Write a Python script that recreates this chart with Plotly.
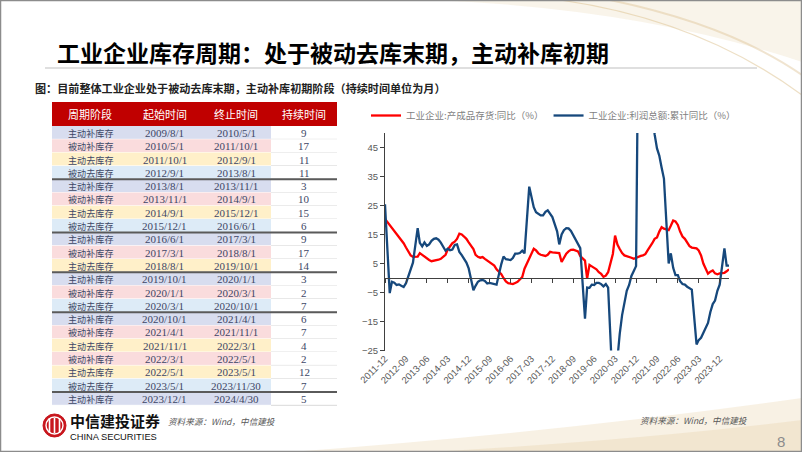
import plotly.graph_objects as go

W, H = 802, 452

# ---------------- text ----------------
TITLE = "工业企业库存周期：处于被动去库末期，主动补库初期"
SUBTITLE = "图：目前整体工业企业处于被动去库末期，主动补库初期阶段（持续时间单位为月）"
SOURCE = "资料来源：Wind，中信建投"
BRAND_CN = "中信建投证券"
BRAND_EN = "CHINA SECURITIES"
PAGE_NO = "8"

# ---------------- table data ----------------
TABLE_HEADER = ["周期阶段", "起始时间", "终止时间", "持续时间"]
PHASES = ["主动补库存", "被动补库存", "主动去库存", "被动去库存",
          "主动补库存", "被动补库存", "主动去库存", "被动去库存",
          "主动补库存", "被动补库存", "主动去库存",
          "主动补库存", "被动补库存", "被动去库存",
          "主动补库存", "被动补库存", "主动去库存", "被动补库存", "主动去库存", "被动去库存",
          "主动补库存"]
STARTS = ["2009/8/1", "2010/5/1", "2011/10/1", "2012/9/1",
          "2013/8/1", "2013/11/1", "2014/9/1", "2015/12/1",
          "2016/6/1", "2017/3/1", "2018/8/1",
          "2019/10/1", "2020/1/1", "2020/3/1",
          "2020/10/1", "2021/4/1", "2021/11/1", "2022/3/1", "2022/5/1", "2023/5/1",
          "2023/12/1"]
ENDS = ["2010/5/1", "2011/10/1", "2012/9/1", "2013/8/1",
        "2013/11/1", "2014/9/1", "2015/12/1", "2016/6/1",
        "2017/3/1", "2018/8/1", "2019/10/1",
        "2020/1/1", "2020/3/1", "2020/10/1",
        "2021/4/1", "2021/11/1", "2022/3/1", "2022/5/1", "2023/5/1", "2023/11/30",
        "2024/4/30"]
DURATIONS = [9, 17, 11, 11, 3, 10, 15, 6, 9, 17, 14, 3, 2, 7, 6, 7, 4, 2, 12, 7, 5]

# ---------------- chart data (monthly, Jan not published) ----------------
YEARS = [2011, 2012, 2013, 2014, 2015, 2016, 2017, 2018, 2019, 2020, 2021, 2022, 2023, 2024]
FIRST_MONTH = [12, 2, 2, 2, 2, 2, 2, 2, 2, 2, 2, 2, 2, 2]

INV_NAME = "工业企业:产成品存货:同比（%）"
INV_YOY = [
    [20.4],
    [18.3, 17.2, 16.0, 15.0, 14.0, 13.0, 12.0, 10.5, 9.0, 7.8, 7.3],
    [7.4, 8.6, 8.0, 7.2, 6.8, 6.2, 5.8, 5.9, 6.1, 6.3, 6.6],
    [8.0, 9.8, 11.0, 12.0, 12.5, 13.5, 15.3, 15.0, 14.3, 13.5, 12.3],
    [10.0, 8.0, 7.3, 7.0, 7.2, 6.6, 6.0, 5.2, 4.6, 4.3, 3.0],
    [1.3, 0.0, -1.2, -1.8, -2.0, -2.1, -1.7, -1.3, -0.5, 0.3, 3.2],
    [6.8, 8.5, 10.1, 9.5, 8.5, 8.0, 7.8, 7.6, 8.0, 9.0, 8.8],
    [8.5, 8.6, 5.5, 7.2, 8.4, 9.2, 9.7, 9.8, 9.5, 9.2, 7.6],
    [6.0, -0.2, 4.5, 4.0, 3.6, 3.0, 2.0, 1.4, 0.4, 0.8, 2.0],
    [8.3, 14.6, 11.5, 10.0, 8.6, 7.8, 7.6, 7.2, 7.0, 6.6, 7.0],
    [7.6, 7.8, 8.2, 9.5, 10.6, 12.0, 13.5, 14.0, 16.0, 17.5, 17.0],
    [16.5, 18.0, 19.8, 19.5, 18.3, 16.0, 14.3, 13.5, 12.0, 11.0, 10.5],
    [10.2, 9.5, 7.8, 5.0, 3.0, 1.5, 2.2, 2.6, 1.6, 1.3, 1.6],
    [1.8, 2.3, 3.0],
]

PROFIT_NAME = "工业企业:利润总额:累计同比（%）"
PROFIT_YOY = [
    [25.4],
    [-5.2, -1.3, -1.6, -2.4, -2.2, -2.7, -3.1, -1.8, 0.5, 3.0, 5.3],
    [17.2, 12.1, 10.9, 12.3, 11.1, 11.6, 12.8, 13.5, 13.7, 13.2, 12.2],
    [9.4, 10.1, 9.6, 9.8, 11.4, 11.6, 9.0, 7.9, 6.7, 5.3, 3.3],
    [-4.2, -2.7, -1.3, -0.8, -0.7, -1.0, -1.9, -1.7, -1.9, -1.9, -2.3],
    [4.8, 7.4, 6.5, 6.4, 6.2, 6.9, 8.4, 8.4, 8.6, 9.4, 8.5],
    [31.5, 28.3, 24.4, 22.7, 22.0, 21.6, 21.6, 22.8, 23.3, 21.9, 21.0],
    [16.1, 11.6, 15.0, 16.5, 17.2, 17.1, 16.2, 14.7, 13.6, 11.8, 10.3],
    [-14.0, -3.3, -3.4, -2.3, -2.4, -1.7, -1.7, -2.1, -2.9, -2.1, -3.3],
    [-38.3, -36.7, -27.4, -19.3, -12.8, -8.1, -4.4, -2.4, 0.7, 2.4, 4.1],
    [178.9, 137.3, 106.0, 83.4, 66.9, 57.3, 49.5, 44.7, 42.2, 38.0, 34.3],
    [5.0, 8.5, 3.5, 1.0, 1.0, -1.1, -2.1, -2.3, -3.0, -3.6, -4.0],
    [-22.9, -21.4, -20.6, -18.8, -16.8, -15.5, -11.7, -9.0, -7.8, -4.4, -2.3],
    [10.2, 4.3, 4.3],
]

X_TICK_LABELS = ["2011-12", "2012-09", "2013-06", "2014-03", "2014-12", "2015-09",
                 "2016-06", "2017-03", "2017-12", "2018-09", "2019-06", "2020-03",
                 "2020-12", "2021-09", "2022-06", "2023-03", "2023-12"]
X_RANGE = ["2011-12-01", "2024-04-01"]
Y_TICKS = [-25, -15, -5, 5, 15, 25, 35, 45]
Y_RANGE = [-25, 50]

# ---------------- build series ----------------
DATES, INV, PROFIT = [], [], []
for yr, m0, inv_vals, pr_vals in zip(YEARS, FIRST_MONTH, INV_YOY, PROFIT_YOY):
    for k, (a, b) in enumerate(zip(inv_vals, pr_vals)):
        DATES.append(f"{yr}-{m0 + k:02d}-01")
        INV.append(a)
        PROFIT.append(b)
TICK_VALS = [t + "-01" for t in X_TICK_LABELS]


def px(x):
    return x / W


def py(y):
    return 1 - y / H


CJK = "Noto Sans CJK SC"
SERIF = "Liberation Serif"

PHASE_FILL = {"主动补库存": "#D8DDEF", "被动补库存": "#FADCDD",
              "主动去库存": "#FFF0C9", "被动去库存": "#DDEBF7"}

fig = go.Figure()

# ---------------- lines ----------------
fig.add_trace(go.Scatter(x=DATES, y=INV, mode="lines", name=INV_NAME,
                         line=dict(color="#FF0000", width=2.3), hoverinfo="skip"))
fig.add_trace(go.Scatter(x=DATES, y=PROFIT, mode="lines", name=PROFIT_NAME,
                         line=dict(color="#16487C", width=2.3), hoverinfo="skip"))
fig.add_trace(go.Scatter(x=[], y=[], xaxis="x2", yaxis="y", showlegend=False))

PLOT_L, PLOT_R, PLOT_T, PLOT_B = 385, 729, 133, 350.5
y_dom = [py(PLOT_B), py(PLOT_T)]
zero_pos = y_dom[0] + (0 - Y_RANGE[0]) / (Y_RANGE[1] - Y_RANGE[0]) * (y_dom[1] - y_dom[0])

AX_COLOR = "#404040"
TICK_FONT = dict(family="Liberation Sans", size=9.5, color="#595959")

shapes = []
annotations = []

# ---------------- table (cells drawn as rectangles + text) ----------------
TBL_T = 102
HDR_H, ROW_H = 24, 13.3
COL_EDGES = [52, 128, 201, 271, 337]
BODY_T = TBL_T + HDR_H

shapes.append(dict(type="rect", xref="paper", yref="paper",
                   x0=px(COL_EDGES[0]), x1=px(COL_EDGES[-1]), y0=py(BODY_T), y1=py(TBL_T),
                   fillcolor="#C00000", line=dict(width=0), layer="below"))
for c, head in enumerate(TABLE_HEADER):
    annotations.append(dict(text=head, x=px((COL_EDGES[c] + COL_EDGES[c + 1]) / 2),
                            y=py(TBL_T + HDR_H / 2), xref="paper", yref="paper",
                            showarrow=False, xanchor="center", yanchor="middle",
                            font=dict(family=CJK, size=11, color="white")))

columns = [PHASES, STARTS, ENDS, [str(d) for d in DURATIONS]]
for i, phase in enumerate(PHASES):
    top = BODY_T + i * ROW_H
    bot = top + ROW_H
    for c in range(4):
        fill = PHASE_FILL[phase] if c < 3 else "white"
        shapes.append(dict(type="rect", xref="paper", yref="paper",
                           x0=px(COL_EDGES[c]), x1=px(COL_EDGES[c + 1]), y0=py(bot), y1=py(top),
                           fillcolor=fill, line=dict(width=0), layer="below"))
        annotations.append(dict(text=columns[c][i],
                                x=px((COL_EDGES[c] + COL_EDGES[c + 1]) / 2),
                                y=py(top + ROW_H / 2 + 0.3), xref="paper", yref="paper",
                                showarrow=False, xanchor="center", yanchor="middle",
                                font=dict(family=CJK if c == 0 else SERIF,
                                          size=9.1 if c == 0 else 11, color="#3D4766")))
    # thin row separators
    shapes.append(dict(type="line", xref="paper", yref="paper",
                       x0=px(COL_EDGES[0]), x1=px(COL_EDGES[3]), y0=py(bot), y1=py(bot),
                       line=dict(color="white", width=1), layer="below"))
    shapes.append(dict(type="line", xref="paper", yref="paper",
                       x0=px(COL_EDGES[3]), x1=px(COL_EDGES[4]), y0=py(bot), y1=py(bot),
                       line=dict(color="#D9D9D9", width=1), layer="below"))
    # thick separator before each new cycle
    if i > 0 and phase == "主动补库存":
        shapes.append(dict(type="line", xref="paper", yref="paper",
                           x0=px(COL_EDGES[0]), x1=px(COL_EDGES[-1]), y0=py(top), y1=py(top),
                           line=dict(color="#5A5A5A", width=2), layer="below"))


def path_px(points, close=True):
    s = ""
    for cmd, pts in points:
        s += cmd + " " + " ".join(f"{px(a):.4f},{py(b):.4f}" for a, b in pts) + " "
    return s + ("Z" if close else "")


# decorative swooshes
shapes += [
    dict(type="path", xref="paper", yref="paper", layer="below",
         path=path_px([("M", [(430, 0)]), ("Q", [(640, 8), (802, 62)]), ("L", [(802, 0)])]),
         fillcolor="rgba(238,224,196,0.35)", line=dict(width=0)),
    dict(type="path", xref="paper", yref="paper", layer="below",
         path=path_px([("M", [(560, 0)]), ("Q", [(700, 20), (802, 95)])], close=False),
         line=dict(color="rgba(222,196,150,0.55)", width=1.2)),
    dict(type="path", xref="paper", yref="paper", layer="below",
         path=path_px([("M", [(610, 0)]), ("Q", [(730, 25), (802, 75)])], close=False),
         line=dict(color="rgba(222,196,150,0.45)", width=2)),
    dict(type="path", xref="paper", yref="paper", layer="below",
         path=path_px([("M", [(290, 452)]), ("Q", [(560, 432), (802, 398)]), ("L", [(802, 452)])]),
         fillcolor="rgba(242,230,206,0.55)", line=dict(width=0)),
    dict(type="path", xref="paper", yref="paper", layer="below",
         path=path_px([("M", [(430, 452)]), ("Q", [(640, 440), (802, 420)]), ("L", [(802, 452)])]),
         fillcolor="rgba(236,218,185,0.45)", line=dict(width=0)),
    # underline of title
    dict(type="line", xref="paper", yref="paper", x0=px(45), x1=px(757), y0=py(68), y1=py(68),
         line=dict(color="#BFBFBF", width=1)),
    # slide border
    dict(type="rect", xref="paper", yref="paper", x0=px(0.5), x1=px(801.5), y0=py(451.5), y1=py(0.5),
         line=dict(color="#8C8C8C", width=1.5)),
    # logo
    dict(type="circle", xref="paper", yref="paper", x0=px(43), x1=px(66), y0=py(437), y1=py(414),
         fillcolor="#C8161D", line=dict(color="#C8161D", width=1)),
]
for dx in (-5, 0, 5):
    shapes.append(dict(type="line", xref="paper", yref="paper", x0=px(54.5 + dx), x1=px(54.5 + dx),
                       y0=py(433), y1=py(418), line=dict(color="white", width=1.6)))
shapes.append(dict(type="circle", xref="paper", yref="paper", x0=px(46), x1=px(63),
                   y0=py(434), y1=py(417), line=dict(color="white", width=1.4)))

annotations += [
    dict(text=f"<b>{TITLE}</b>", x=px(55), y=py(52), xref="paper", yref="paper",
         xanchor="left", yanchor="middle", showarrow=False,
         font=dict(family=CJK, size=23, color="#000000")),
    dict(text=f"<b>{SUBTITLE}</b>", x=px(33), y=py(88), xref="paper", yref="paper",
         xanchor="left", yanchor="middle", showarrow=False,
         font=dict(family=CJK, size=11.1, color="#222222")),
    dict(text=f"<b>{BRAND_CN}</b>", x=px(68), y=py(420), xref="paper", yref="paper",
         xanchor="left", yanchor="middle", showarrow=False,
         font=dict(family=CJK, size=15, color="#111111")),
    dict(text=BRAND_EN, x=px(68), y=py(437), xref="paper", yref="paper",
         xanchor="left", yanchor="middle", showarrow=False,
         font=dict(family="Liberation Sans", size=9.3, color="#111111")),
    dict(text=f"<i>{SOURCE}</i>", x=px(166), y=py(421), xref="paper", yref="paper",
         xanchor="left", yanchor="middle", showarrow=False,
         font=dict(family=CJK, size=8.6, color="#595959")),
    dict(text=f"<i>{SOURCE}</i>", x=px(750), y=py(420), xref="paper", yref="paper",
         xanchor="right", yanchor="middle", showarrow=False,
         font=dict(family=CJK, size=8.6, color="#595959")),
    dict(text=PAGE_NO, x=px(781), y=py(441), xref="paper", yref="paper",
         xanchor="center", yanchor="middle", showarrow=False,
         font=dict(family="Liberation Sans", size=15, color="#8C8C8C")),
]

fig.update_layout(
    width=W, height=H, margin=dict(l=0, r=0, t=0, b=0, autoexpand=False),
    paper_bgcolor="white", plot_bgcolor="rgba(0,0,0,0)",
    showlegend=True,
    legend=dict(orientation="h", x=px(366), y=py(101), xanchor="left", yanchor="top",
                font=dict(family=CJK, size=9.5, color="#7F7F7F"), bgcolor="rgba(0,0,0,0)",
                itemwidth=30, tracegroupgap=0),
    xaxis=dict(domain=[px(PLOT_L), px(PLOT_R)], type="date", range=X_RANGE,
               tickvals=TICK_VALS, ticktext=X_TICK_LABELS, tickangle=-45,
               showline=False, ticks="", showgrid=False, zeroline=False,
               tickfont=TICK_FONT, anchor="y", automargin=False),
    xaxis2=dict(overlaying="x", type="date", range=X_RANGE, tickvals=TICK_VALS,
                showticklabels=False, anchor="free", position=zero_pos,
                showline=True, linecolor=AX_COLOR, linewidth=1,
                ticks="outside", ticklen=4, tickcolor=AX_COLOR, showgrid=False, zeroline=False),
    yaxis=dict(domain=y_dom, range=Y_RANGE, tickvals=Y_TICKS, showline=True,
               linecolor=AX_COLOR, linewidth=1, ticks="outside", ticklen=4, tickcolor=AX_COLOR,
               showgrid=False, zeroline=False, tickfont=TICK_FONT, automargin=False),
    shapes=shapes, annotations=annotations,
)

fig.write_html("out.html", config={"displayModeBar": False},
               post_script="document.body.style.margin='0';document.body.style.overflow='hidden';")
